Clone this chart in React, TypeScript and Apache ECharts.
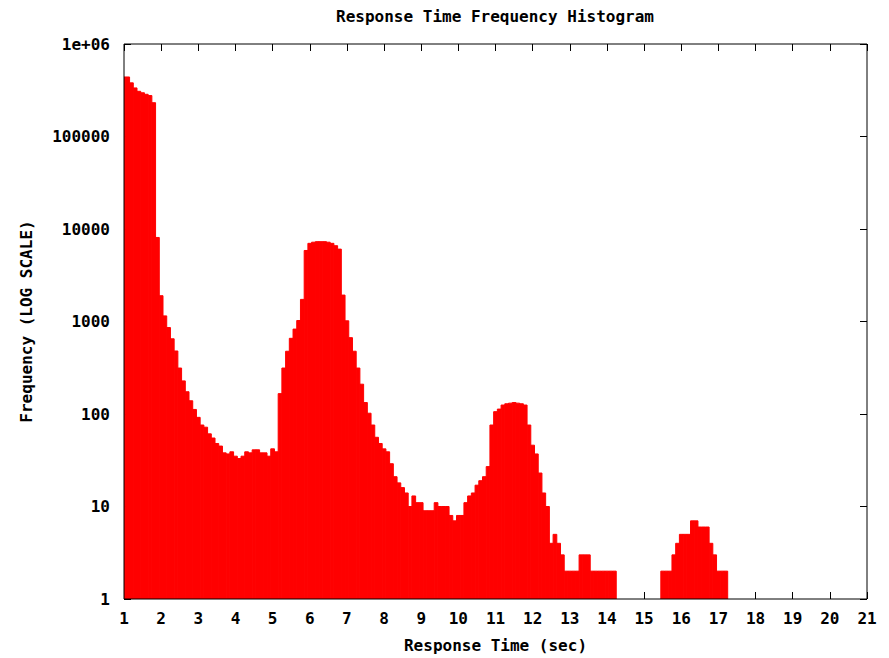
import React, { useEffect, useRef } from 'react';
import * as echarts from 'echarts';

// Histogram bins: centre of first bin and bin width (seconds)
const binStart = 1.0;
const binWidth = 0.1;

// Frequency per 0.1 s bin, from 1.0 s to 17.2 s
const counts = [
  // 1.0 - 1.9
  440000, 440000, 380000, 335000, 308000, 297000, 286000, 277000, 232000, 8100,
  // 2.0 - 2.9
  1900, 1150, 860, 650, 480, 314, 228, 174, 139, 112,
  // 3.0 - 3.9
  92, 76, 72, 61, 55, 48, 45, 38, 37, 39,
  // 4.0 - 4.9
  35, 33, 35, 39, 38, 41, 41, 38, 38, 35,
  // 5.0 - 5.9
  42, 39, 166, 314, 477, 658, 828, 1025, 1734, 5860,
  // 6.0 - 6.9
  7000, 7200, 7300, 7300, 7300, 7200, 7000, 6600, 6060, 1930,
  // 7.0 - 7.9
  1017, 669, 477, 314, 210, 133, 102, 76, 56, 48,
  // 8.0 - 8.9
  42, 39, 29, 21, 18, 16, 14, 10, 13, 11,
  // 9.0 - 9.9
  11, 9, 9, 9, 11, 10, 10, 10, 8, 7,
  // 10.0 - 10.9
  8, 8, 11, 13, 14, 17, 19, 21, 27, 76,
  // 11.0 - 11.9
  106, 113, 125, 129, 131, 133, 131, 129, 125, 76,
  // 12.0 - 12.9
  46, 37, 23, 14, 10, 4, 5, 4, 3, 2,
  // 13.0 - 13.9
  2, 2, 2, 3, 3, 3, 2, 2, 2, 2,
  // 14.0 - 14.9
  2, 2, 2, 0, 0, 0, 0, 0, 0, 0,
  // 15.0 - 15.9
  0, 0, 0, 0, 0, 2, 2, 2, 3, 4,
  // 16.0 - 16.9
  5, 5, 5, 7, 7, 6, 6, 6, 4, 3,
  // 17.0 - 17.2
  2, 2, 2,
];

const xMin = 1;
const xMax = 21;
const yMin = 1;
const yMax = 1000000;
const yTickLabels: Record<string, string> = {
  '1': '1',
  '10': '10',
  '100': '100',
  '1000': '1000',
  '10000': '10000',
  '100000': '100000',
  '1000000': '1e+06',
};

const titleText = 'Response Time Frequency Histogram';
const xName = 'Response Time (sec)';
const yName = 'Frequency (LOG SCALE)';

const FONT = '"DejaVu Sans Mono", "Liberation Mono", monospace';

export default function App() {
  const ref = useRef<HTMLDivElement>(null);
  useEffect(() => {
    const chart = echarts.init(ref.current!, null, { renderer: 'svg' });
    const data = counts
      .map((c, i) => [binStart + i * binWidth, c])
      .filter((d) => d[1] > 0);

    const textStyle = {
      fontFamily: FONT,
      fontWeight: 'bold',
      fontSize: 16,
      color: '#000',
    };

    const tick = { show: true, inside: true, length: 7, lineStyle: { color: '#000', width: 1 } };

    chart.setOption({
      animation: false,
      backgroundColor: '#fff',
      grid: {
        left: 124,
        top: 44,
        width: 743,
        height: 560,
        show: true,
        borderColor: '#000',
        borderWidth: 1,
        backgroundColor: 'transparent',
        z: 10,
      },
      graphic: [
        {
          type: 'text',
          x: 495,
          y: 16,
          style: {
            text: titleText,
            fontFamily: FONT,
            fontWeight: 'bold',
            fontSize: 16,
            fill: '#000',
            align: 'center',
            verticalAlign: 'middle',
          },
        },
      ],
      xAxis: [
        {
          type: 'value',
          position: 'bottom',
          min: xMin,
          max: xMax,
          interval: 1,
          axisLine: { show: false },
          axisTick: tick,
          splitLine: { show: false },
          axisLabel: { ...textStyle, margin: 11 },
          name: xName,
          nameLocation: 'middle',
          nameGap: 38,
          nameTextStyle: textStyle,
        },
        {
          type: 'value',
          position: 'top',
          min: xMin,
          max: xMax,
          interval: 1,
          axisLine: { show: false },
          axisTick: tick,
          splitLine: { show: false },
          axisLabel: { show: false },
        },
      ],
      yAxis: [
        {
          type: 'log',
          logBase: 10,
          position: 'left',
          min: yMin,
          max: yMax,
          splitNumber: 6,
          axisLine: { show: false },
          axisTick: tick,
          splitLine: { show: false },
          axisLabel: {
            ...textStyle,
            margin: 14,
            formatter: (v: number) => yTickLabels[String(Math.round(v))] ?? String(v),
          },
          name: yName,
          nameLocation: 'middle',
          nameGap: 90,
          nameRotate: 90,
          nameTextStyle: textStyle,
        },
        {
          type: 'log',
          logBase: 10,
          position: 'right',
          min: yMin,
          max: yMax,
          splitNumber: 6,
          axisLine: { show: false },
          axisTick: tick,
          splitLine: { show: false },
          axisLabel: { show: false },
        },
      ],
      series: [
        {
          type: 'custom',
          xAxisIndex: 0,
          yAxisIndex: 0,
          clip: true,
          encode: { x: 0, y: 1 },
          data,
          renderItem: (params: any, api: any) => {
            const x = api.value(0);
            const v = api.value(1);
            if (!(v > 0)) return null;
            const x0 = Math.max(x - binWidth / 2, xMin);
            const x1 = x + binWidth / 2;
            const tl = api.coord([x0, v]);
            const br = api.coord([x1, yMin]);
            return {
              type: 'rect',
              shape: { x: tl[0], y: tl[1], width: br[0] - tl[0], height: br[1] - tl[1] },
              style: { fill: '#ff0000', stroke: '#ff0000', lineWidth: 1 },
            };
          },
        },
      ],
    });
    return () => chart.dispose();
  }, []);
  return (
    <div
      ref={ref}
      style={{ position: 'fixed', left: 0, top: 0, width: 889, height: 658 }}
    />
  );
}
